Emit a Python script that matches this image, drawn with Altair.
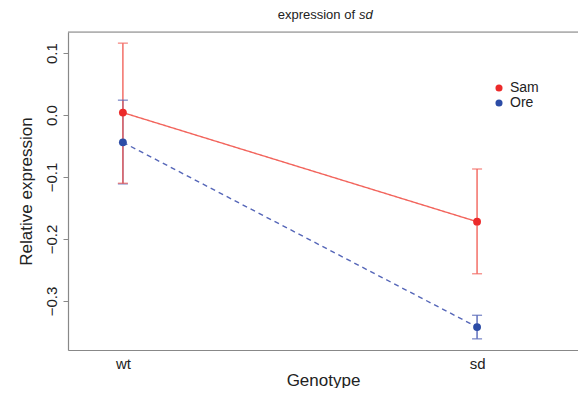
import altair as alt
import pandas as pd

genotypes = ["wt", "sd"]
xpos = [1, 2]
groups = ["Sam", "Ore"]
sam_mean = [0.004, -0.172]
sam_lo = [-0.110, -0.256]
sam_hi = [0.116, -0.087]
ore_mean = [-0.044, -0.342]
ore_lo = [-0.111, -0.361]
ore_hi = [0.024, -0.323]

rows = []
for i, g in enumerate(genotypes):
    rows.append({"genotype": g, "x": xpos[i], "group": "Ore", "mean": ore_mean[i], "lo": ore_lo[i], "hi": ore_hi[i]})
for i, g in enumerate(genotypes):
    rows.append({"genotype": g, "x": xpos[i], "group": "Sam", "mean": sam_mean[i], "lo": sam_lo[i], "hi": sam_hi[i]})
df = pd.DataFrame(rows)

FONT = "Liberation Sans"
W, H = 510, 318
xscale = alt.Scale(domain=[0.845, 2.285], nice=False, zero=False)
yscale = alt.Scale(domain=[-0.379, 0.134], nice=False, zero=False)

color_point = alt.Color("group:N", scale=alt.Scale(domain=groups, range=["#ec2a2a", "#2c4ca6"]),
                        legend=alt.Legend(title=None, orient="none", legendX=424, legendY=49,
                                          symbolType="circle", symbolSize=50, labelFontSize=14,
                                          labelFont=FONT, labelColor="#222", rowPadding=1,
                                          symbolStrokeWidth=0, labelOffset=4))
color_light = alt.Color("group:N", scale=alt.Scale(domain=groups, range=["#f2645c", "#5566b8"]), legend=None)

xenc = alt.X("x:Q", scale=xscale,
             axis=alt.Axis(values=xpos, labelExpr="datum.value == 1 ? 'wt' : 'sd'", ticks=False,
                           grid=False, title="Genotype", labelFontSize=15, labelFont=FONT,
                           labelColor="#222", labelPadding=6, titleFontSize=17, titleFont=FONT,
                           titleFontWeight="normal", titleColor="#222", titlePadding=1,
                           domainColor="#888", domainWidth=1.2))
yenc = alt.Y("mean:Q", scale=yscale,
             axis=alt.Axis(values=[-0.3, -0.2, -0.1, 0.0, 0.1], format=".1f", grid=False,
                           title="Relative expression", labelAngle=270, labelAlign="center",
                           labelBaseline="bottom", labelFontSize=15, labelFont=FONT,
                           labelColor="#222", labelPadding=4, tickSize=5, tickColor="#888",
                           titleFontSize=17, titleFont=FONT, titleFontWeight="normal",
                           titleColor="#222", titlePadding=9, domainColor="#888", domainWidth=1.2))

base = alt.Chart(df)

top_border = alt.Chart(pd.DataFrame({"a": [0]})).mark_rule(color="#888", strokeWidth=1.2).encode(
    x=alt.value(0), x2=alt.value(W), y=alt.value(0))

lines = base.mark_line(strokeWidth=1.4).encode(
    x=xenc, y=yenc, color=color_light,
    strokeDash=alt.StrokeDash("group:N", scale=alt.Scale(domain=groups, range=[[1, 0], [5, 4]]), legend=None),
    detail="group:N")

err = base.mark_rule(strokeWidth=1.4).encode(
    x=alt.X("x:Q", scale=xscale), y=alt.Y("lo:Q", scale=yscale), y2="hi:Q", color=color_light)
cap_hi = base.mark_tick(orient="horizontal", size=10, thickness=1.4).encode(
    x=alt.X("x:Q", scale=xscale), y=alt.Y("hi:Q", scale=yscale), color=color_light)
cap_lo = base.mark_tick(orient="horizontal", size=10, thickness=1.4).encode(
    x=alt.X("x:Q", scale=xscale), y=alt.Y("lo:Q", scale=yscale), color=color_light)

points = base.mark_circle(size=62, opacity=1).encode(
    x=alt.X("x:Q", scale=xscale), y=alt.Y("mean:Q", scale=yscale), color=color_point)

t1 = alt.Chart(pd.DataFrame({"t": ["expression of"]})).mark_text(
    align="right", baseline="middle", fontSize=13, font=FONT, color="#222").encode(
    text="t:N", x=alt.value(287), y=alt.value(-17))
t2 = alt.Chart(pd.DataFrame({"t": ["sd"]})).mark_text(
    align="left", baseline="middle", fontSize=13, font=FONT, fontStyle="italic", color="#222").encode(
    text="t:N", x=alt.value(291), y=alt.value(-17))

chart = alt.layer(err, cap_hi, cap_lo, lines, points, top_border, t1, t2).properties(
    width=W, height=H,
    autosize=alt.AutoSizeParams(type="none"),
    padding={"left": 60, "top": 24, "right": 0, "bottom": 38},
).resolve_scale(color="independent").configure_view(stroke=None).configure(
    background="white")

chart.save("out.html", embed_options={"renderer": "svg", "actions": False})
